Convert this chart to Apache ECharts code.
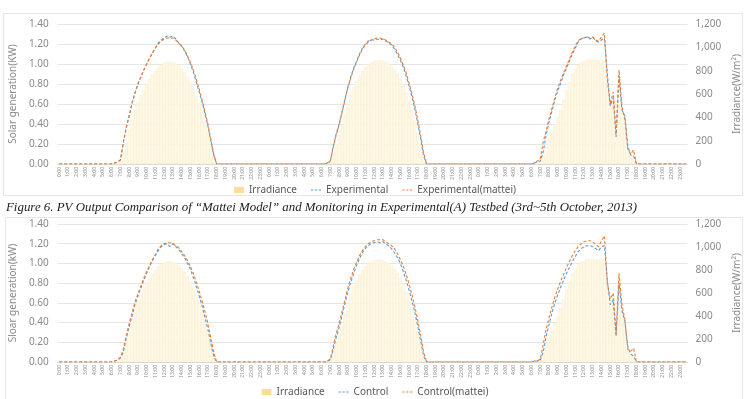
<!DOCTYPE html>
<html>
<head>
<meta charset="utf-8">
<script src="https://cdn.jsdelivr.net/npm/echarts@6/dist/echarts.min.js"></script>
<style>
html,body{margin:0;padding:0;background:#fff;}
#chart{width:750px;height:399px;}
</style>
</head>
<body>
<div id="chart"></div>
<script>
// ---- categories: 3 days, 20-minute steps, labels shown every hour ----
const hourLabels = ['0','1','2','3','4','5','6','7','8','9','10','11','12','13','14','15','16','17','18','19','20','21','22','23'];
const minuteMarks = ['00','20','40'];
const dayCount = 3;

// ---- irradiance (W/m2), shared by both panels ----
const irrDay1 = [0,0,0,0,0,0,0,0,0,0,0,0,0,0,0,0,0,0,
  0,5,10,25,100,190,290,380,460,530,590,640,690,730,765,800,830,850,865,875,875,870,860,840,815,785,745,700,645,585,520,445,365,270,165,65,0,
  0,0,0,0,0,0,0,0,0,0,0,0,0,0,0,0,0];
const irrDay2 = [0,0,0,0,0,0,0,0,0,0,0,0,0,0,0,0,0,0,
  0,0,8,20,90,170,250,330,420,510,590,660,710,760,800,830,855,870,885,890,890,885,875,860,840,810,775,730,675,610,540,460,370,270,170,70,0,
  0,0,0,0,0,0,0,0,0,0,0,0,0,0,0,0,0];
const irrDay3 = [0,0,0,0,0,0,0,0,0,0,0,0,0,0,0,0,0,0,
  0,2,5,20,80,150,220,280,340,400,470,550,630,700,770,820,850,870,885,895,895,895,890,890,895,880,700,480,560,260,720,440,350,120,70,60,0,
  0,0,0,0,0,0,0,0,0,0,0,0,0,0,0,0,0];

// ---- panel 1: Experimental (kW) ----
const expDay1 = [0,0,0,0,0,0,0,0,0,0,0,0,0,0,0,0,0,0,
  0,0.01,0.02,0.04,0.22,0.37,0.48,0.61,0.71,0.80,0.87,0.94,1.00,1.06,1.11,1.16,1.21,1.24,1.26,1.28,1.27,1.28,1.25,1.21,1.18,1.13,1.07,1.00,0.92,0.82,0.72,0.62,0.50,0.38,0.23,0.09,0,
  0,0,0,0,0,0,0,0,0,0,0,0,0,0,0,0,0];
const expDay2 = [0,0,0,0,0,0,0,0,0,0,0,0,0,0,0,0,0,0,
  0,0,0.01,0.03,0.18,0.30,0.40,0.52,0.65,0.77,0.87,0.96,1.03,1.10,1.16,1.20,1.23,1.24,1.24,1.25,1.24,1.25,1.23,1.21,1.19,1.15,1.10,1.04,0.97,0.88,0.78,0.67,0.55,0.40,0.25,0.08,0,
  0,0,0,0,0,0,0,0,0,0,0,0,0,0,0,0,0];
const expDay3 = [0,0,0,0,0,0,0,0,0,0,0,0,0,0,0,0,0,0,
  0,0.01,0.02,0.03,0.12,0.29,0.42,0.53,0.64,0.73,0.81,0.89,0.96,1.03,1.10,1.16,1.22,1.25,1.26,1.27,1.25,1.27,1.23,1.22,1.24,1.26,0.90,0.58,0.66,0.27,0.88,0.54,0.48,0.18,0.09,0.08,0,
  0,0,0,0,0,0,0,0,0,0,0,0,0,0,0,0,0];
// ---- panel 1: Experimental(mattei) (kW) ----
const expMatDay1 = [0,0,0,0,0,0,0,0,0,0,0,0,0,0,0,0,0,0,
  0,0.01,0.02,0.04,0.21,0.36,0.48,0.61,0.71,0.80,0.87,0.94,1.00,1.06,1.11,1.16,1.20,1.23,1.25,1.26,1.26,1.26,1.24,1.21,1.18,1.14,1.08,1.02,0.94,0.85,0.75,0.64,0.52,0.40,0.25,0.10,0,
  0,0,0,0,0,0,0,0,0,0,0,0,0,0,0,0,0];
const expMatDay2 = [0,0,0,0,0,0,0,0,0,0,0,0,0,0,0,0,0,0,
  0,0,0.01,0.03,0.17,0.29,0.39,0.51,0.64,0.76,0.86,0.95,1.02,1.09,1.15,1.19,1.22,1.24,1.25,1.26,1.26,1.25,1.24,1.22,1.20,1.17,1.12,1.06,0.99,0.91,0.81,0.70,0.58,0.44,0.28,0.11,0,
  0,0,0,0,0,0,0,0,0,0,0,0,0,0,0,0,0];
const expMatDay3 = [0,0,0,0,0,0,0,0,0,0,0,0,0,0,0,0,0,0,
  0,0.01,0.03,0.05,0.22,0.33,0.45,0.56,0.66,0.76,0.84,0.91,0.98,1.05,1.12,1.18,1.23,1.26,1.26,1.27,1.26,1.27,1.24,1.23,1.27,1.31,0.84,0.60,0.72,0.30,0.94,0.57,0.45,0.15,0.10,0.14,0,
  0,0,0,0,0,0,0,0,0,0,0,0,0,0,0,0,0];

// ---- panel 2: Control (kW) ----
const ctlDay1 = [0,0,0,0,0,0,0,0,0,0,0,0,0,0,0,0,0,0,
  0,0.01,0.02,0.04,0.10,0.24,0.36,0.47,0.58,0.67,0.75,0.83,0.90,0.97,1.03,1.08,1.13,1.17,1.19,1.20,1.17,1.20,1.17,1.14,1.10,1.06,1.00,0.94,0.86,0.77,0.67,0.57,0.45,0.33,0.19,0.06,0,
  0,0,0,0,0,0,0,0,0,0,0,0,0,0,0,0,0];
const ctlDay2 = [0,0,0,0,0,0,0,0,0,0,0,0,0,0,0,0,0,0,
  0,0,0.01,0.02,0.13,0.25,0.35,0.47,0.59,0.71,0.81,0.90,0.98,1.05,1.11,1.15,1.18,1.20,1.21,1.22,1.21,1.22,1.20,1.18,1.15,1.11,1.06,1.00,0.92,0.83,0.73,0.62,0.50,0.36,0.21,0.06,0,
  0,0,0,0,0,0,0,0,0,0,0,0,0,0,0,0,0];
const ctlDay3 = [0,0,0,0,0,0,0,0,0,0,0,0,0,0,0,0,0,0,
  0,0.01,0.01,0.02,0.10,0.26,0.38,0.50,0.60,0.68,0.76,0.83,0.90,0.96,1.02,1.07,1.12,1.15,1.17,1.18,1.18,1.17,1.15,1.13,1.17,1.18,0.82,0.58,0.63,0.26,0.80,0.52,0.42,0.16,0.08,0.06,0,
  0,0,0,0,0,0,0,0,0,0,0,0,0,0,0,0,0];
// ---- panel 2: Control(mattei) (kW) ----
const ctlMatDay1 = [0,0,0,0,0,0,0,0,0,0,0,0,0,0,0,0,0,0,
  0,0.01,0.02,0.05,0.13,0.27,0.39,0.50,0.61,0.69,0.77,0.85,0.92,0.98,1.04,1.09,1.15,1.18,1.20,1.21,1.21,1.20,1.18,1.16,1.12,1.08,1.03,0.97,0.90,0.81,0.72,0.62,0.51,0.39,0.24,0.10,0,
  0,0,0,0,0,0,0,0,0,0,0,0,0,0,0,0,0];
const ctlMatDay2 = [0,0,0,0,0,0,0,0,0,0,0,0,0,0,0,0,0,0,
  0,0,0.01,0.03,0.16,0.29,0.39,0.51,0.63,0.75,0.85,0.94,1.01,1.08,1.13,1.17,1.20,1.22,1.23,1.24,1.24,1.24,1.22,1.20,1.18,1.15,1.10,1.04,0.97,0.89,0.79,0.68,0.56,0.42,0.27,0.10,0,
  0,0,0,0,0,0,0,0,0,0,0,0,0,0,0,0,0];
const ctlMatDay3 = [0,0,0,0,0,0,0,0,0,0,0,0,0,0,0,0,0,0,
  0,0.01,0.01,0.03,0.18,0.33,0.45,0.56,0.66,0.74,0.82,0.89,0.96,1.02,1.08,1.13,1.17,1.20,1.22,1.23,1.23,1.22,1.19,1.17,1.23,1.28,0.80,0.64,0.70,0.29,0.90,0.58,0.43,0.13,0.11,0.14,0,
  0,0,0,0,0,0,0,0,0,0,0,0,0,0,0,0,0];

// ---- text ----
const caption = 'Figure 6. PV Output Comparison of \u201CMattei Model\u201D and Monitoring in Experimental(A) Testbed (3rd~5th October, 2013)';
const leftName1 = 'Solar generation(KW)';
const leftName2 = 'Sloar generation(kW)';
const rightName = 'Irradiance(W/m\u00B2)';
const names1 = ['Irradiance', 'Experimental', 'Experimental(mattei)'];
const names2 = ['Irradiance', 'Control', 'Control(mattei)'];

// ---- build ----
const categories = [];
for (let d = 0; d < dayCount; d++) for (const h of hourLabels) for (const m of minuteMarks) categories.push(h + ':' + m);
const irradiance = [...irrDay1, ...irrDay2, ...irrDay3];
const experimental = [...expDay1, ...expDay2, ...expDay3];
const experimentalMattei = [...expMatDay1, ...expMatDay2, ...expMatDay3];
const control = [...ctlDay1, ...ctlDay2, ...ctlDay3];
const controlMattei = [...ctlMatDay1, ...ctlMatDay2, ...ctlMatDay3];

const GRAY = '#8a8a8a';
const FONT = 'Noto Sans';
const BLUE = '#5b9bd5', ORANGE = '#ed7d31';
const BAR = '#fef8e7', BARLINE = '#fbecc3', LEG = '#f9df8f';

function xAxis(gi) {
  return {
    type: 'category', gridIndex: gi, data: categories, boundaryGap: true,
    axisLine: { lineStyle: { color: '#d9d9d9' } },
    axisTick: { show: false },
    axisLabel: { interval: 2, rotate: 90, fontSize: 5, color: GRAY, fontFamily: FONT, margin: 3 }
  };
}
function yLeft(gi, name) {
  return {
    type: 'value', gridIndex: gi, min: 0, max: 1.4, interval: 0.2,
    name: name, nameLocation: 'middle', nameGap: 29,
    nameTextStyle: { fontSize: 10, color: GRAY, fontFamily: FONT },
    axisLine: { show: false }, axisTick: { show: false },
    axisLabel: { fontSize: 10, color: GRAY, fontFamily: FONT, margin: 9, formatter: v => v.toFixed(2) },
    splitLine: { lineStyle: { color: '#e6e6e6', width: 1 } }
  };
}
function yRight(gi) {
  return {
    type: 'value', gridIndex: gi, min: 0, max: 1200, interval: 200, position: 'right',
    name: rightName, nameLocation: 'middle', nameGap: 37,
    nameTextStyle: { fontSize: 10, color: GRAY, fontFamily: FONT },
    axisLine: { show: false }, axisTick: { show: false },
    axisLabel: { fontSize: 10, color: GRAY, fontFamily: FONT, margin: 8, formatter: v => v.toLocaleString('en-US') },
    splitLine: { show: false }
  };
}
function series(gi, names, gen, genM) {
  return [
    { name: names[0], type: 'bar', xAxisIndex: gi, yAxisIndex: gi * 2 + 1, data: irradiance,
      barCategoryGap: '0%', itemStyle: { color: BAR, borderColor: BARLINE, borderWidth: 0.4 }, silent: true },
    { name: names[1], type: 'line', xAxisIndex: gi, yAxisIndex: gi * 2, data: gen, symbol: 'none',
      lineStyle: { color: BLUE, width: 1.1, type: [3, 2] }, itemStyle: { color: BLUE } },
    { name: names[2], type: 'line', xAxisIndex: gi, yAxisIndex: gi * 2, data: genM, symbol: 'none',
      lineStyle: { color: ORANGE, width: 1.1, type: [3, 2] }, itemStyle: { color: ORANGE } }
  ];
}
function legend(names, top) {
  return {
    top: top, left: 'center', itemWidth: 10, itemHeight: 6, itemGap: 14,
    textStyle: { fontSize: 10, color: '#595959', fontFamily: FONT },
    data: [
      { name: names[0], icon: 'rect', itemStyle: { color: LEG, borderWidth: 0 } },
      { name: names[1], icon: 'path://M0,0H3V1H0Z M5,0H8V1H5Z M10,0H13V1H10Z', itemStyle: { color: BLUE } },
      { name: names[2], icon: 'path://M0,0H3V1H0Z M5,0H8V1H5Z M10,0H13V1H10Z', itemStyle: { color: ORANGE } }
    ]
  };
}

const chart = echarts.init(document.getElementById('chart'), null, { renderer: 'canvas' });
chart.setOption({
  animation: false,
  backgroundColor: '#ffffff',
  graphic: [
    { type: 'rect', shape: { x: 3.5, y: 13.5, width: 739, height: 182 }, style: { fill: 'none', stroke: '#e6e6e6', lineWidth: 1 }, z: -1 },
    { type: 'rect', shape: { x: 5.5, y: 217.5, width: 737, height: 185 }, style: { fill: 'none', stroke: '#e6e6e6', lineWidth: 1 }, z: -1 },
    { type: 'rect', shape: { x: 0, y: 200, width: 750, height: 15 }, style: { fill: '#ffffff' }, z: 0 },
    { type: 'text', left: 6, top: 201, z: 10,
      style: { text: caption, font: 'italic 12.9px "Liberation Serif"', fill: '#222222' } }
  ],
  legend: [legend(names1, 180), legend(names2, 382)],
  grid: [
    { left: 47, right: 58, top: 24, height: 140 },
    { left: 48, right: 58, top: 224, height: 138 }
  ],
  xAxis: [xAxis(0), xAxis(1)],
  yAxis: [yLeft(0, leftName1), yRight(0), yLeft(1, leftName2), yRight(1)],
  series: [...series(0, names1, experimental, experimentalMattei), ...series(1, names2, control, controlMattei)]
});
</script>
</body>
</html>
